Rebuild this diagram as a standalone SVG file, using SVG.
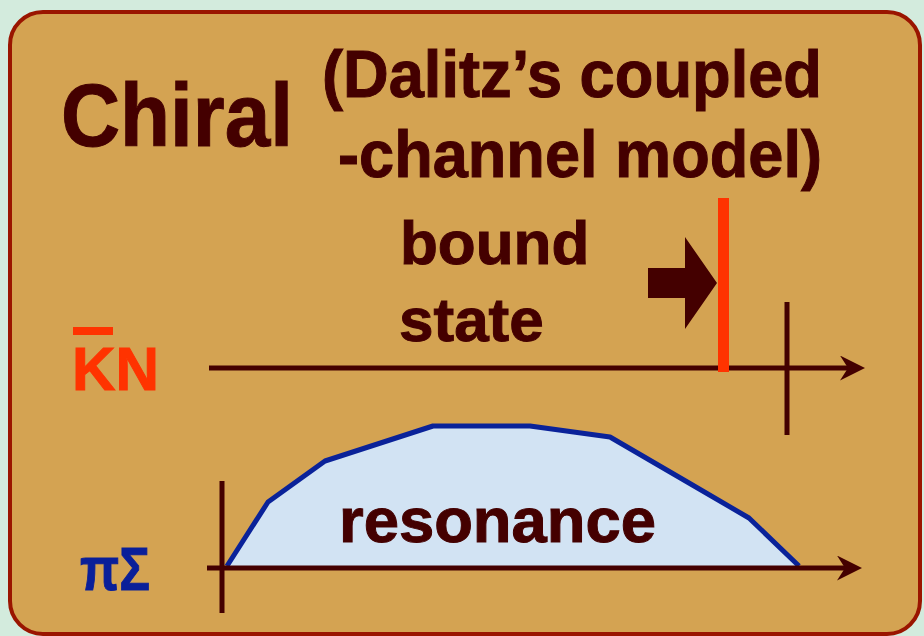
<svg xmlns="http://www.w3.org/2000/svg" width="924" height="636" viewBox="0 0 924 636">
  <defs>
    <style>
      .t { font-family: "Liberation Sans", Arial, Helvetica, sans-serif; font-weight: bold; fill: #440000; stroke: #440000; stroke-width: 1; }
      .axis { stroke: #440000; stroke-width: 5; fill: none; }
      .tick { stroke: #440000; stroke-width: 5; }
    </style>
    <marker id="head" markerUnits="userSpaceOnUse" viewBox="0 0 25 25" refX="8" refY="12.5" markerWidth="25" markerHeight="25" orient="auto">
      <path d="M0,0 L25,12.5 L0,25 L8,12.5 Z" fill="#440000"/>
    </marker>
  </defs>
  <rect x="0" y="0" width="924" height="636" fill="#d3ebdd"/>
  <g id="panel">
    <rect x="10" y="12" width="910" height="622" rx="33" ry="33" fill="#d4a352" stroke="#9a1500" stroke-width="4"/>
  </g>
  <g id="title">
    <text class="t" x="61" y="146" font-size="89" textLength="232" lengthAdjust="spacingAndGlyphs">Chiral</text>
    <text class="t" x="322" y="97" font-size="66" textLength="500" lengthAdjust="spacingAndGlyphs">(Dalitz’s coupled</text>
    <text class="t" x="338" y="177" font-size="66" textLength="484" lengthAdjust="spacingAndGlyphs">-channel model)</text>
  </g>
  <g id="resonance-curve">
    <polygon points="227,566 268,502 325,461 433,426 530,426 610,437 689,483 749,518 799,566" fill="#d2e3f3"/>
    <polyline points="227,566 268,502 325,461 433,426 530,426 610,437 689,483 749,518 799,566" fill="none" stroke="#0a2299" stroke-width="5" stroke-linejoin="round"/>
  </g>
  <g id="connectors">
    <line class="axis" x1="209" y1="368" x2="848" y2="368" marker-end="url(#head)"/>
    <line class="tick" x1="787" y1="302" x2="787" y2="435"/>
    <line class="axis" x1="207" y1="568" x2="845" y2="568" marker-end="url(#head)"/>
    <line class="tick" x1="222" y1="481" x2="222" y2="613"/>
  </g>
  <g id="bound-state">
    <rect x="718" y="198" width="11" height="174" fill="#ff3300"/>
    <polygon points="648,268 685,268 685,237 717,283 685,329 685,298 648,298" fill="#440000"/>
    <text class="t" x="400" y="264" font-size="62">bound</text>
    <text class="t" x="399" y="341" font-size="62">state</text>
  </g>
  <g id="label-KN">
    <rect x="73" y="327" width="40" height="8" fill="#ff3300"/>
    <text class="t" x="72" y="390" font-size="62" textLength="87" lengthAdjust="spacingAndGlyphs" style="fill:#ff3300;stroke:#ff3300">KN</text>
  </g>
  <g id="label-piSigma">
    <text class="t" x="80" y="590" font-size="62" textLength="70" lengthAdjust="spacingAndGlyphs" style="fill:#0a1f99;stroke:#0a1f99">πΣ</text>
  </g>
  <g id="label-resonance">
    <text class="t" x="339" y="542" font-size="63" textLength="317" lengthAdjust="spacingAndGlyphs">resonance</text>
  </g>
</svg>
